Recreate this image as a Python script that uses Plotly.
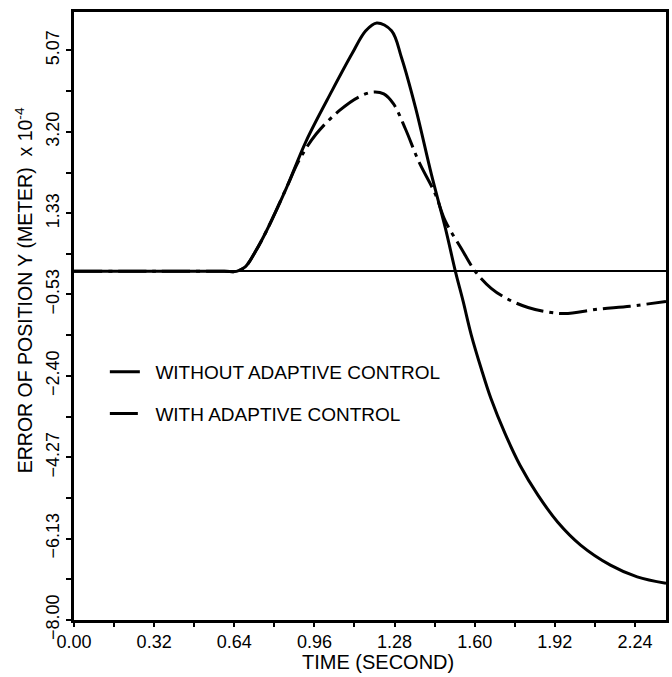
import plotly.graph_objects as go

# ---- data ----
time_without = [0.00, 0.32, 0.60, 0.649, 0.685, 0.725, 0.768, 0.848, 0.927, 1.030, 1.110, 1.165,
                1.209, 1.268, 1.308, 1.364, 1.427, 1.483, 1.523, 1.554, 1.586, 1.626,
                1.665, 1.721, 1.781, 1.852, 1.931, 2.023, 2.142, 2.249, 2.364]
err_without = [0.00, 0.00, 0.00, 0.00, 0.11, 0.46, 0.92, 1.91, 2.99, 4.14, 4.99, 5.52,
               5.70, 5.52, 4.90, 3.75, 2.23, 0.99, 0.00, -0.69, -1.45, -2.23,
               -2.92, -3.72, -4.45, -5.13, -5.75, -6.28, -6.74, -7.01, -7.16]

time_with = [0.00, 0.32, 0.60, 0.649, 0.685, 0.725, 0.768, 0.848, 0.899, 0.967, 1.058, 1.137,
             1.193, 1.237, 1.276, 1.324, 1.376, 1.443, 1.483, 1.546, 1.602, 1.666,
             1.733, 1.813, 1.880, 1.959, 2.090, 2.221, 2.364]
err_with = [0.00, 0.00, 0.00, 0.00, 0.11, 0.46, 0.92, 1.91, 2.55, 3.15, 3.68, 4.00,
            4.11, 4.07, 3.84, 3.26, 2.53, 1.77, 1.15, 0.53, 0.00, -0.39,
            -0.64, -0.83, -0.92, -0.97, -0.87, -0.80, -0.69]

x_tick_vals = [0.00, 0.32, 0.64, 0.96, 1.28, 1.60, 1.92, 2.24]
x_tick_text = ["0.00", "0.32", "0.64", "0.96", "1.28", "1.60", "1.92", "2.24"]
y_tick_vals = [-8.00, -6.13, -4.27, -2.40, -0.53, 1.33, 3.20, 5.07]
y_tick_text = ["\u22128.00", "\u22126.13", "\u22124.27", "\u22122.40", "\u22120.53", "1.33", "3.20", "5.07"]

series_names = ["WITHOUT ADAPTIVE CONTROL", "WITH ADAPTIVE CONTROL"]

x_minor = [(a + b) / 2 for a, b in zip(x_tick_vals[:-1], x_tick_vals[1:])]
y_minor = [(a + b) / 2 for a, b in zip(y_tick_vals[:-1], y_tick_vals[1:])]

FONT = "Liberation Sans, Arial, sans-serif"

fig = go.Figure()
fig.add_trace(go.Scatter(
    x=time_without, y=err_without, mode="lines",
    name="  " + series_names[0], legendgroup="a",
    line=dict(color="black", width=3, shape="spline", smoothing=1.0),
))
fig.add_trace(go.Scatter(
    x=time_with, y=err_with, mode="lines",
    name="  " + series_names[1], legendgroup="b",
    line=dict(color="black", width=3, shape="spline", smoothing=1.0,
              dash="28px,6px,4px,6px"),
))

fig.update_layout(
    width=672, height=677,
    margin=dict(l=74, r=3, t=12, b=57),
    paper_bgcolor="white", plot_bgcolor="white",
    font=dict(family=FONT, color="black", size=18),
    showlegend=True,
    legend=dict(
        x=(105 - 74) / 595, y=(620 - 353) / 608,
        xanchor="left", yanchor="top",
        font=dict(family=FONT, size=19, color="black"),
        bgcolor="rgba(0,0,0,0)", borderwidth=0,
        traceorder="grouped", tracegroupgap=14,
    ),
    annotations=[
        dict(text="TIME (SECOND)", xref="paper", yref="paper",
             x=(380 - 74) / 595, y=(620 - 662) / 608,
             xanchor="center", yanchor="middle", showarrow=False,
             font=dict(family=FONT, size=20, color="black")),
        dict(text="ERROR OF POSITION Y (METER)  x 10<sup>-4</sup>",
             xref="paper", yref="paper",
             x=(24 - 74) / 595, y=(620 - 290) / 608,
             xanchor="center", yanchor="middle", textangle=-90,
             showarrow=False,
             font=dict(family=FONT, size=19.5, color="black")),
    ],
)

fig.update_xaxes(
    range=[0, 2.364],
    showgrid=False, zeroline=False,
    showline=True, linecolor="black", linewidth=2.5, mirror=True,
    ticks="outside", ticklen=4, tickwidth=2, tickcolor="black",
    tickmode="array", tickvals=x_tick_vals, ticktext=x_tick_text,
    tickfont=dict(family=FONT, size=18, color="black"),
    minor=dict(tickmode="array", tickvals=x_minor, ticks="outside",
               ticklen=4, tickwidth=2, tickcolor="black", showgrid=False),
)
fig.update_yaxes(
    range=[-8, 5.95],
    showgrid=False,
    zeroline=True, zerolinecolor="black", zerolinewidth=1.8,
    showline=True, linecolor="black", linewidth=2.5, mirror=True,
    ticks="outside", ticklen=5, tickwidth=2, tickcolor="black",
    tickmode="array", tickvals=y_tick_vals, ticktext=y_tick_text,
    tickangle=-90,
    tickfont=dict(family=FONT, size=18, color="black"),
    minor=dict(tickmode="array", tickvals=y_minor, ticks="outside",
               ticklen=5, tickwidth=2, tickcolor="black", showgrid=False),
)

fig.write_html("out.html")
